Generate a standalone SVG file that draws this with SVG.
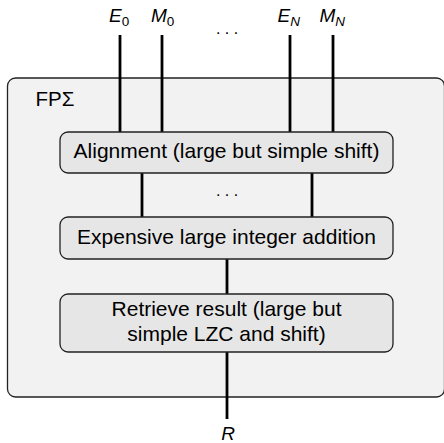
<svg xmlns="http://www.w3.org/2000/svg" width="444" height="443" viewBox="0 0 444 443">
<style>
.t{font-family:"Liberation Sans",Arial,Helvetica,sans-serif;fill:#000}
.box{font-size:21px;text-anchor:middle}
.lab{font-size:19px;font-style:italic}
.sub{font-size:13.5px;font-style:normal}
.subi{font-size:13.5px;font-style:italic}
.w{stroke:#000;stroke-width:2.8;fill:none}
.node{fill:#e6e6e6;stroke:#222;stroke-width:1.3}
</style>
<g id="fpsum">
<rect x="7.5" y="78" width="437" height="319" rx="8" fill="#f2f2f2" stroke="#222" stroke-width="1.3"/>
<text class="t" x="35.5" y="106" font-size="20.5">FPΣ</text>
</g>
<g id="connectors">
<line class="w" x1="120" y1="35" x2="120" y2="132"/>
<line class="w" x1="162" y1="35" x2="162" y2="132"/>
<line class="w" x1="290" y1="35" x2="290" y2="132"/>
<line class="w" x1="333" y1="35" x2="333" y2="132"/>
<line class="w" x1="142" y1="173" x2="142" y2="217"/>
<line class="w" x1="312" y1="173" x2="312" y2="217"/>
<line class="w" x1="227" y1="259" x2="227" y2="294"/>
<line class="w" x1="227" y1="352" x2="227" y2="419"/>
<text class="t" x="227" y="34" font-size="16" text-anchor="middle" xml:space="preserve">. . .</text>
<text class="t" x="227" y="196" font-size="16" text-anchor="middle" xml:space="preserve">. . .</text>
</g>
<g id="inputs">
<text class="t lab" x="109" y="22">E<tspan class="sub" dy="4">0</tspan></text>
<text class="t lab" x="151" y="22">M<tspan class="sub" dy="4">0</tspan></text>
<text class="t lab" x="277.5" y="22">E<tspan class="subi" dy="4">N</tspan></text>
<text class="t lab" x="319.5" y="22">M<tspan class="subi" dy="4">N</tspan></text>
</g>
<g id="alignment">
<rect class="node" x="60" y="132" width="333" height="41" rx="8"/>
<text class="t box" x="226.5" y="158">Alignment (large but simple shift)</text>
</g>
<g id="addition">
<rect class="node" x="60" y="217" width="333" height="42" rx="8"/>
<text class="t box" x="226.5" y="243.5">Expensive large integer addition</text>
</g>
<g id="retrieve">
<rect class="node" x="60" y="294" width="333" height="58" rx="8"/>
<text class="t box" x="226.5" y="316">Retrieve result (large but</text>
<text class="t box" x="226.5" y="341">simple LZC and shift)</text>
</g>
<g id="output">
<text class="t lab" x="228" y="440" text-anchor="middle">R</text>
</g>
</svg>
